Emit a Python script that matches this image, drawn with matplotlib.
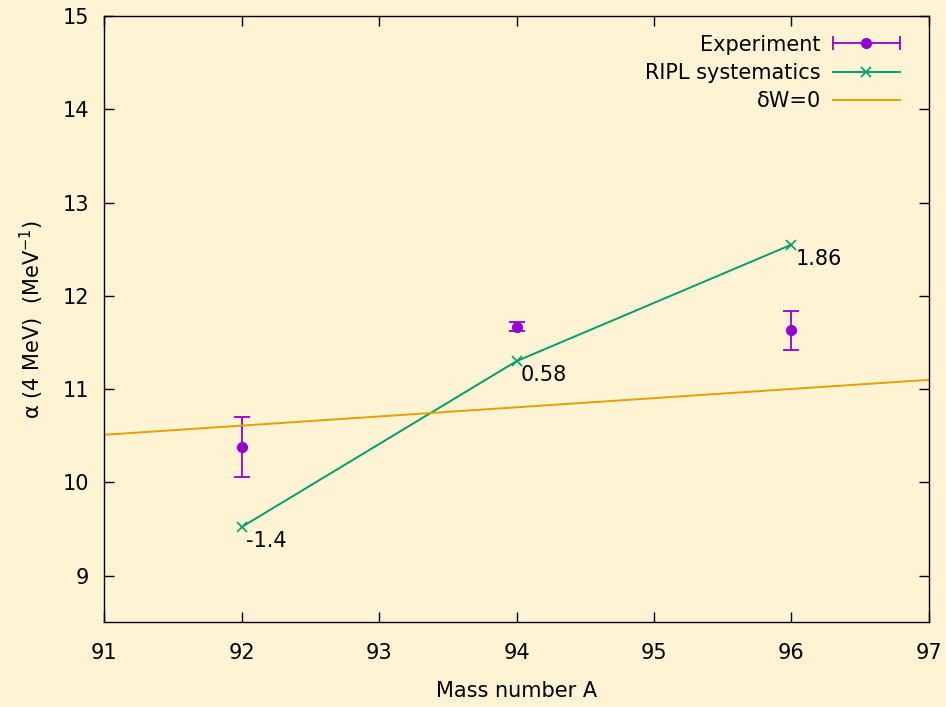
import matplotlib
matplotlib.use('Agg')
import matplotlib.pyplot as plt
from matplotlib.lines import Line2D
from matplotlib.legend_handler import HandlerBase

# values
exp_A = [92, 94, 96]
exp_a = [10.38, 11.67, 11.63]
exp_err = [0.32, 0.05, 0.21]

ripl_A = [92, 94, 96]
ripl_a = [9.52, 11.30, 12.55]
ripl_labels = ['-1.4', '0.58', '1.86']

dw0_A = [91, 97]
dw0_a = [10.51, 11.10]

bg = '#fef3d2'
purple = '#9400d3'
green = '#009e73'
orange = '#e69f00'


class ErrHandler(HandlerBase):
    # gnuplot style key sample: horizontal bar with end caps and a dot
    def create_artists(self, legend, orig_handle, xdescent, ydescent,
                       width, height, fontsize, trans):
        y = height / 2 - ydescent
        x0, x1 = -xdescent, width - xdescent
        bar = Line2D([x0, x1], [y, y], color=purple, lw=1.3)
        caps = Line2D([x0, x1], [y, y], ls='none', marker='|', ms=10,
                      mew=1.3, color=purple)
        dot = Line2D([(x0 + x1) / 2], [y], ls='none', marker='o', ms=7,
                     color=purple)
        for a in (bar, caps, dot):
            a.set_transform(trans)
        return [bar, caps, dot]


plt.rcParams['font.family'] = ['DejaVu Sans']
fig = plt.figure(figsize=(9.46, 7.07), dpi=100, facecolor=bg)
ax = fig.add_axes([0.110, 0.120, 0.872, 0.857])
ax.set_facecolor(bg)

eb = ax.errorbar(exp_A, exp_a, yerr=exp_err, fmt='o', color=purple,
                 markersize=7, capsize=6, elinewidth=1.3, capthick=1.3)
ripl_line, = ax.plot(ripl_A, ripl_a, color=green, linewidth=1.4, marker='x',
                     markersize=7, markeredgewidth=1.2)
dw_line, = ax.plot(dw0_A, dw0_a, color=orange, linewidth=1.4)

for xa, ya, txt in zip(ripl_A, ripl_a, ripl_labels):
    ax.annotate(txt, (xa, ya), xytext=(3, -3), textcoords='offset points',
                ha='left', va='top', fontsize=15)

ax.set_xlim(91, 97)
ax.set_ylim(8.5, 15)
ax.set_xticks([91, 92, 93, 94, 95, 96, 97])
ax.set_yticks([9, 10, 11, 12, 13, 14, 15])
ax.tick_params(direction='in', length=7, width=1, top=True, right=True,
               labelsize=15, pad=11)
ax.tick_params(axis='x', pad=15)
for s in ax.spines.values():
    s.set_linewidth(1)

ax.set_xlabel('Mass number A', fontsize=15, labelpad=13)
ax.set_ylabel('α (4 MeV)  (MeV$^{-1}$)', fontsize=15, labelpad=12)

eb_key = Line2D([], [], color=purple)
ax.legend([eb_key, ripl_line, dw_line],
          ['Experiment', 'RIPL systematics', 'δW=0'],
          handler_map={eb_key: ErrHandler()},
          loc='upper right', bbox_to_anchor=(1.0, 1.018),
          frameon=False, markerfirst=False, fontsize=15,
          handlelength=3.2, handletextpad=0.6, labelspacing=0.4,
          borderaxespad=1.0)

fig.savefig('out.png', dpi=100, facecolor=bg)
